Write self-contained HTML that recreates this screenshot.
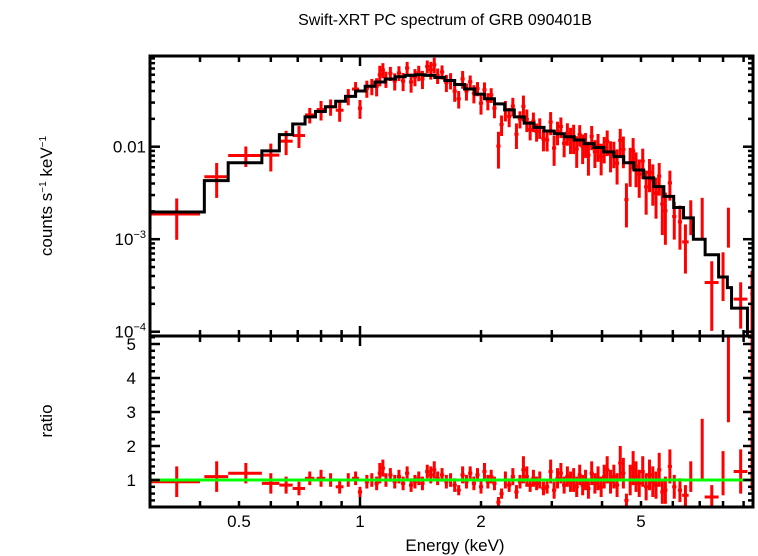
<!DOCTYPE html>
<html><head><meta charset="utf-8"><style>
html,body{margin:0;padding:0;background:#fff;}
svg{display:block;font-family:"Liberation Sans",sans-serif;}
</style></head><body>
<svg id="chart" width="758" height="556" viewBox="0 0 758 556" xmlns="http://www.w3.org/2000/svg">
<text x="445" y="25" font-size="16" text-anchor="middle">Swift-XRT PC spectrum of GRB 090401B</text>
<text transform="translate(52,196) rotate(-90)" font-size="17" text-anchor="middle">counts s<tspan font-size="10" dy="-6">−1</tspan><tspan dy="6"> keV</tspan><tspan font-size="10" dy="-6">−1</tspan></text>
<text transform="translate(52,421) rotate(-90)" font-size="17" text-anchor="middle">ratio</text>
<text x="455" y="551" font-size="17" text-anchor="middle">Energy (keV)</text>
<g id="g-marks"></g>
<g id="g-axes"></g>
</svg>
<script>
// ---- data ----
const modelEdges=[0.30,0.41,0.47,0.57,0.63,0.68,0.73,0.775,0.82,0.87,0.92,0.975,1.03,1.09,1.155,1.225,1.295,1.37,1.45,1.535,1.625,1.72,1.82,1.93,2.04,2.16,2.29,2.42,2.56,2.71,2.87,3.04,3.22,3.41,3.61,3.82,4.04,4.28,4.53,4.80,5.08,5.38,5.70,6.03,6.38,6.75,7.22,7.8,8.2,8.4,9.2,9.6];
const modelValues=[0.00197,0.0043,0.0067,0.009,0.0135,0.0176,0.021,0.024,0.027,0.031,0.035,0.040,0.045,0.050,0.054,0.057,0.059,0.060,0.059,0.056,0.052,0.047,0.042,0.037,0.033,0.029,0.025,0.021,0.018,0.0162,0.0148,0.0138,0.0128,0.0118,0.0108,0.0098,0.0088,0.0078,0.0067,0.0056,0.0046,0.0037,0.0029,0.0022,0.0017,0.001,0.00068,0.00039,0.0003,0.00018,0.00008];
const dataE=[0.35,0.44,0.52,0.60,0.655,0.705,0.75,0.80,0.845,0.89,0.935,0.975,1.0,1.04,1.07,1.10,1.12,1.14,1.16,1.19,1.22,1.25,1.28,1.31,1.34,1.37,1.40,1.43,1.47,1.50,1.53,1.56,1.60,1.64,1.68,1.72,1.76,1.80,1.84,1.88,1.92,1.96,2.0,2.04,2.08,2.12,2.16,2.21,2.25,2.3,2.35,2.4,2.45,2.5,2.55,2.6,2.65,2.7,2.75,2.8,2.86,2.92,2.98,3.04,3.1,3.16,3.22,3.28,3.34,3.4,3.46,3.52,3.58,3.64,3.7,3.77,3.84,3.91,3.98,4.05,4.12,4.2,4.28,4.36,4.44,4.52,4.6,4.7,4.78,4.86,4.95,5.05,5.15,5.25,5.35,5.45,5.55,5.65,5.75,5.9,6.05,6.25,6.45,6.65,7.1,7.5,8.0,8.25,8.85,9.45];
const ratioV=[0.95,1.1,1.2,0.9,0.85,0.75,1.05,1.05,1.0,0.8,1.0,1.05,0.65,0.95,1.0,0.9,1.2,1.35,1.0,1.15,0.95,1.1,0.9,1.2,0.85,0.95,1.05,0.9,1.25,1.15,1.3,1.05,1.15,0.95,1.0,0.85,0.7,1.15,0.95,1.2,0.9,1.15,0.8,1.25,0.95,1.1,0.9,0.35,0.6,1.0,0.85,1.1,0.65,0.95,1.3,1.1,0.85,1.05,0.9,1.0,0.75,0.8,1.25,0.7,1.05,1.2,0.85,1.1,0.95,1.0,0.8,1.15,0.85,1.0,0.75,1.2,0.9,1.05,0.8,1.1,1.3,0.95,1.1,0.85,1.5,1.2,0.4,1.0,1.35,1.1,0.9,1.25,0.8,1.15,0.95,0.85,1.3,0.65,0.7,1.4,0.8,0.7,0.55,1.1,1.9,0.5,1.2,5.0,1.25,3.2];
const ratioErr=[0.45,0.45,0.3,0.3,0.25,0.2,0.2,0.25,0.2,0.2,0.2,0.2,0.15,0.2,0.2,0.2,0.3,0.25,0.2,0.2,0.2,0.2,0.2,0.2,0.2,0.2,0.2,0.2,0.2,0.25,0.25,0.2,0.2,0.2,0.2,0.2,0.15,0.25,0.2,0.2,0.2,0.2,0.2,0.25,0.2,0.2,0.2,0.15,0.15,0.25,0.2,0.25,0.2,0.2,0.4,0.3,0.2,0.25,0.2,0.25,0.2,0.2,0.35,0.25,0.3,0.3,0.25,0.3,0.3,0.35,0.3,0.3,0.3,0.3,0.3,0.35,0.3,0.35,0.3,0.35,0.4,0.35,0.35,0.35,0.5,0.45,0.2,0.45,0.5,0.45,0.4,0.45,0.4,0.45,0.45,0.4,0.5,0.35,0.4,0.5,0.35,0.35,0.3,0.45,0.9,0.35,0.65,2.3,0.65,2.5];
const dataHalfW=[0.05,0.03,0.05,0.03,0.025,0.025,0.02,0.02,0.02,0.02,0.02,0.02];
const dataHalfWHigh=[0.12,0.05,0.04,0.3,0.05,0.04,0.35,0.1];
const yTicksTop=[{v:0.01,t:"0.01"},{v:0.001,t:"10",e:"−3"},{v:0.0001,t:"10",e:"−4"}];
const ratioTicks=[1,2,3,4,5];
const xTickLabels=[{v:0.5,t:"0.5"},{v:1,t:"1"},{v:2,t:"2"},{v:5,t:"5"}];

// ---- scales ----
const XL=150,XR=753,YT=56,YM=336,YB=507;
const x=e=>360+Math.log10(e)*402;
const yTop=v=>146.7-(Math.log10(v)+2)*92.5;
const yRat=r=>480-(r-1)*34;
const NS="http://www.w3.org/2000/svg";
const marks=document.getElementById('g-marks'), axes=document.getElementById('g-axes');
function mk(tag,parent,attrs){const el=document.createElementNS(NS,tag);for(const k in attrs)el.setAttribute(k,attrs[k]);parent.appendChild(el);return el;}
function modelAt(e){for(let i=0;i<modelValues.length;i++){if(e<modelEdges[i+1])return modelValues[i];}return modelValues[modelValues.length-1];}
function halfW(i){const n=dataE.length;if(i<dataHalfW.length)return dataHalfW[i];const j=i-(n-dataHalfWHigh.length);if(j>=0)return dataHalfWHigh[j];return dataE[i]*0.012;}
const clipY=v=>Math.max(YT,Math.min(YM,v));
const clipR=v=>Math.max(YM,Math.min(YB,v));

// data crosses
dataE.forEach((e,i)=>{
  const m=modelAt(e), v=ratioV[i]*m, er=ratioErr[i]*m, hw=halfW(i);
  const x0=Math.max(XL,x(e-hw)),x1=Math.min(XR,x(e+hw)),xc=Math.min(XR-1,x(e));
  const g=mk('g',marks,{});
  
  
  const yc=yTop(v), ylo=v-er>0?yTop(v-er):YM, yhi=yTop(v+er);
  if(yc<=YM){mk('line',g,{x1:x0,x2:x1,y1:yc,y2:yc,stroke:'#f00','stroke-width':3});}
  mk('line',g,{x1:xc,x2:xc,y1:clipY(ylo),y2:clipY(yhi),stroke:'#f00','stroke-width':3});
  const g2=mk('g',marks,{});
  
  
  const rc=yRat(ratioV[i]);
  if(rc>=YM&&rc<=YB)mk('line',g2,{x1:x0,x2:x1,y1:rc,y2:rc,stroke:'#f00','stroke-width':3});
  mk('line',g2,{x1:xc,x2:xc,y1:clipR(yRat(ratioV[i]-ratioErr[i])),y2:clipR(yRat(ratioV[i]+ratioErr[i])),stroke:'#f00','stroke-width':3});
});
// model step line
let d='';
modelValues.forEach((v,i)=>{const xa=Math.max(XL,x(modelEdges[i])),xb=Math.min(XR,x(modelEdges[i+1])),yy=Math.min(YM,yTop(v));d+=(i?'L':'M')+xa+' '+yy+'L'+xb+' '+yy;});
d+='L'+Math.min(XR,x(modelEdges[modelEdges.length-1]))+' '+YM;
const ml=mk('path',marks,{d:d,fill:'none',stroke:'#000','stroke-width':3});


const gl=mk('line',marks,{x1:XL,x2:XR,y1:yRat(1),y2:yRat(1),stroke:'#0f0','stroke-width':3});



// frames
const f1=mk('rect',axes,{x:XL,y:YT,width:XR-XL,height:YM-YT,fill:'none',stroke:'#000','stroke-width':3});


const f2=mk('rect',axes,{x:XL,y:YM,width:XR-XL,height:YB-YM,fill:'none',stroke:'#000','stroke-width':3});


// x ticks
const xt=[];for(let dec of [0.1,1]){for(let k=1;k<10;k++){const e=k*dec;if(e>=0.3&&e<=9.5)xt.push(e);}}
xt.forEach(e=>{const xx=x(e),L=(e===1)?10:6;
  [[YT,1],[YM,-1],[YM,1],[YB,-1]].forEach(([yy,s])=>mk('line',axes,{x1:xx,x2:xx,y1:yy,y2:yy+s*L,stroke:'#000','stroke-width':2.5}));});
xTickLabels.forEach(o=>{const t=mk('text',axes,{x:x(o.v),y:527,'font-size':17,'text-anchor':'middle'});t.textContent=o.t;
  
  });
// top y ticks
for(let dec of [1e-4,1e-3,1e-2]){for(let k=1;k<10;k++){const v=k*dec;const yy=yTop(v);if(yy<YT||yy>YM)continue;const L=k===1?10:5;
  mk('line',axes,{x1:XL,x2:XL+L,y1:yy,y2:yy,stroke:'#000','stroke-width':2.5});
  mk('line',axes,{x1:XR,x2:XR-L,y1:yy,y2:yy,stroke:'#000','stroke-width':2.5});}}
yTicksTop.forEach(o=>{const t=mk('text',axes,{x:146,y:yTop(o.v)+6,'font-size':17,'text-anchor':'end'});
  
  
  if(o.e){t.textContent=o.t;const s=mk('tspan',t,{'font-size':11,dy:-7});s.textContent=o.e;}else t.textContent=o.t;});
// ratio ticks
for(let r=0.2;r<=5.21;r+=0.2){const rr=Math.round(r*10)/10;const yy=yRat(rr);if(yy<YM||yy>YB)continue;const L=(Math.abs(rr-Math.round(rr))<1e-6)?10:5;
  mk('line',axes,{x1:XL,x2:XL+L,y1:yy,y2:yy,stroke:'#000','stroke-width':2.5});
  mk('line',axes,{x1:XR,x2:XR-L,y1:yy,y2:yy,stroke:'#000','stroke-width':2.5});}
ratioTicks.forEach(r=>{const t=mk('text',axes,{x:136,y:yRat(r)+6,'font-size':17,'text-anchor':'end'});t.textContent=String(r);
  
  });
</script>
</body></html>
